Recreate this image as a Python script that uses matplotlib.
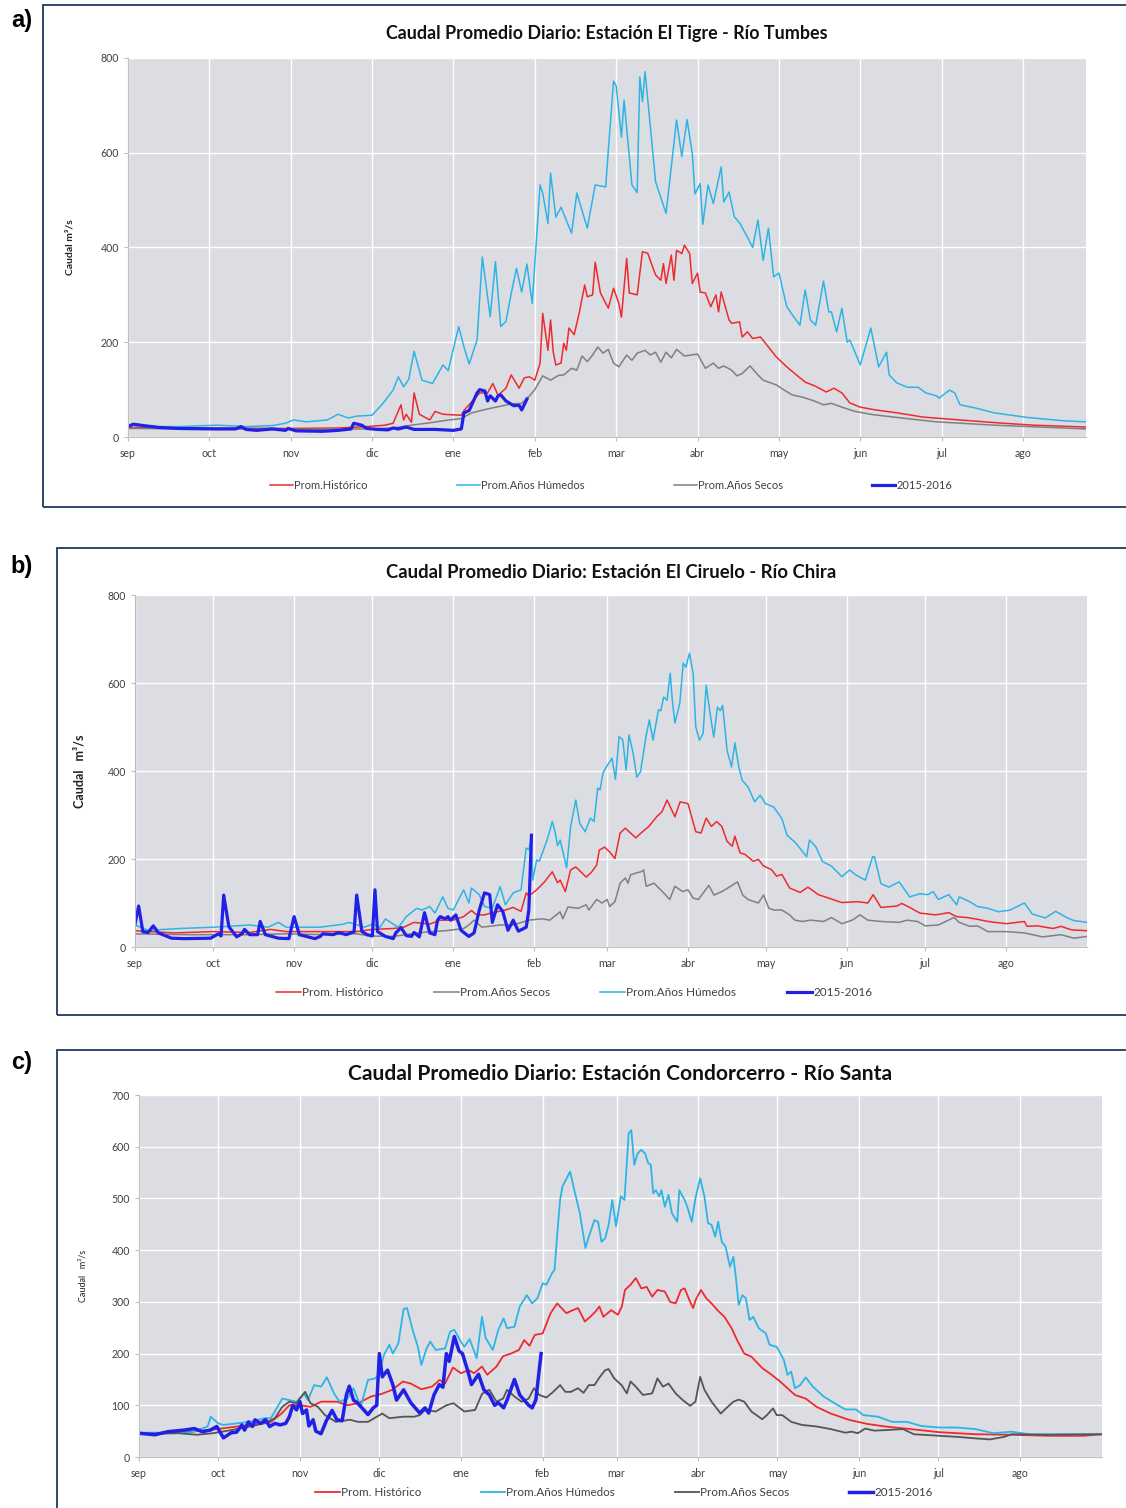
import numpy as np
import matplotlib.pyplot as plt
from matplotlib.patches import Rectangle

W, H = 1126, 1508

meses = ['sep', 'oct', 'nov', 'dic', 'ene', 'feb', 'mar', 'abr', 'may', 'jun', 'jul', 'ago']
# day of the hydrological year (0 = 1 sep) where each month label sits
ticks_a = [0, 31, 62, 93, 124, 155, 186, 217, 248, 279, 310, 341]
ticks_bc = [0, 30, 61, 91, 122, 153, 181, 212, 242, 273, 303, 334]

# ---- a) El Tigre - Rio Tumbes : (day, m3/s)
a_hist = [(0, 20), (30, 19), (60, 18), (80, 19), (91, 22), (98, 25), (101, 29), (104, 68), (105, 36), (106, 48),
          (108, 31), (109, 93), (111, 48), (115, 36), (117, 54), (120, 48), (123, 47), (127, 46), (128, 56),
          (134, 93), (137, 93), (139, 113), (141, 88), (144, 103), (146, 131), (149, 103), (151, 125), (153, 127),
          (155, 120), (157, 156), (158, 261), (160, 183), (161, 247), (162, 180), (163, 152), (165, 156), (166, 198),
          (167, 183), (168, 230), (170, 216), (172, 264), (174, 321), (175, 296), (177, 300), (178, 369), (180, 304),
          (183, 272), (185, 314), (187, 282), (188, 253), (190, 377), (191, 304), (194, 300), (196, 391), (198, 388),
          (201, 342), (203, 331), (204, 366), (205, 324), (207, 384), (208, 331), (209, 394), (211, 387), (212, 405),
          (214, 387), (215, 324), (217, 346), (218, 306), (220, 304), (222, 275), (224, 300), (225, 264), (226, 306),
          (229, 247), (230, 240), (233, 243), (234, 211), (236, 222), (238, 208), (241, 211), (244, 190), (247, 169),
          (251, 148), (254, 134), (258, 116), (262, 107), (266, 95), (269, 103), (272, 93), (275, 72), (279, 63),
          (285, 57), (293, 51), (303, 42), (317, 36), (331, 30), (345, 25), (365, 21)]
a_hum = [(0, 25), (8, 22), (20, 22), (34, 25), (45, 22), (55, 24), (60, 29), (63, 36), (68, 32), (76, 36), (80, 48),
         (84, 40), (87, 44), (93, 46), (97, 70), (101, 99), (103, 127), (105, 106), (107, 122), (109, 181), (112, 120),
         (116, 113), (120, 152), (122, 140), (126, 233), (128, 190), (130, 154), (133, 205), (135, 380), (138, 254),
         (140, 370), (142, 233), (144, 244), (146, 303), (148, 356), (150, 306), (152, 365), (154, 282), (157, 532),
         (158, 515), (160, 451), (161, 557), (163, 464), (165, 485), (169, 430), (171, 515), (175, 441), (178, 532),
         (182, 528), (183, 605), (185, 751), (186, 741), (188, 633), (189, 711), (192, 532), (194, 516), (195, 760),
         (196, 708), (197, 771), (200, 598), (201, 539), (205, 472), (209, 669), (211, 592), (213, 670), (215, 598),
         (216, 513), (218, 535), (219, 449), (221, 532), (223, 493), (226, 570), (227, 496), (229, 517), (231, 465),
         (233, 452), (236, 422), (238, 400), (240, 458), (242, 373), (244, 441), (246, 338), (248, 346), (251, 275),
         (254, 251), (256, 236), (258, 310), (260, 247), (262, 236), (265, 329), (267, 264), (268, 264), (270, 222),
         (272, 272), (274, 200), (275, 205), (279, 152), (283, 230), (286, 148), (289, 179), (290, 131), (293, 114),
         (297, 105), (301, 105), (304, 93), (308, 87), (309, 82), (313, 99), (315, 93), (317, 68), (323, 61),
         (330, 51), (343, 41), (357, 34), (365, 32)]
a_sec = [(0, 18), (30, 17), (60, 16), (90, 17), (101, 19), (108, 25), (115, 30), (121, 35), (127, 39), (131, 51),
         (136, 58), (142, 65), (146, 70), (150, 71), (153, 87), (155, 100), (158, 129), (161, 120), (164, 130),
         (166, 131), (169, 145), (171, 141), (173, 171), (175, 159), (177, 173), (179, 190), (181, 177), (183, 185),
         (185, 156), (187, 148), (190, 173), (192, 162), (194, 177), (197, 183), (199, 173), (201, 179), (203, 158),
         (205, 179), (207, 167), (209, 185), (212, 171), (217, 175), (220, 145), (223, 156), (225, 145), (227, 150),
         (230, 141), (232, 129), (234, 134), (237, 150), (240, 131), (242, 120), (247, 110), (250, 99), (253, 89),
         (257, 84), (261, 77), (265, 68), (268, 71), (272, 63), (277, 54), (284, 47), (295, 40), (308, 32), (330, 25),
         (343, 22), (365, 17)]
a_1516 = [(0, 22), (2, 27), (6, 24), (12, 20), (19, 18), (33, 17), (41, 17), (43, 22), (45, 16), (49, 14), (55, 17),
          (60, 14), (61, 18), (64, 13), (74, 12), (80, 14), (85, 17), (86, 29), (89, 25), (91, 18), (95, 16), (99, 15),
          (101, 19), (103, 17), (106, 21), (109, 16), (117, 16), (124, 14), (127, 17), (128, 51), (130, 56), (133, 93),
          (134, 100), (136, 97), (137, 76), (138, 87), (140, 76), (141, 87), (142, 89), (144, 76), (147, 66), (149, 67),
          (150, 57), (152, 80)]

# ---- b) El Ciruelo - Rio Chira
b_hist = [(0, 37), (15, 32), (30, 35), (44, 33), (52, 40), (58, 35), (72, 35), (85, 35), (91, 40), (99, 42), (103, 45),
          (107, 56), (113, 52), (117, 61), (122, 61), (126, 69), (129, 83), (131, 73), (134, 73), (137, 78), (142, 84),
          (145, 90), (148, 81), (150, 123), (151, 116), (154, 130), (157, 148), (160, 171), (162, 146), (163, 152),
          (165, 126), (167, 175), (169, 182), (173, 159), (175, 170), (177, 186), (178, 220), (180, 227), (182, 216),
          (184, 201), (186, 259), (188, 270), (192, 248), (194, 259), (197, 274), (200, 296), (202, 307), (204, 334),
          (207, 296), (209, 330), (212, 326), (215, 262), (217, 259), (219, 293), (221, 274), (223, 285), (225, 274),
          (227, 240), (229, 229), (230, 252), (232, 214), (234, 210), (237, 195), (239, 199), (241, 184), (244, 176),
          (246, 161), (248, 165), (251, 134), (255, 124), (258, 136), (262, 119), (266, 111), (271, 101), (277, 103),
          (281, 100), (283, 119), (286, 90), (292, 93), (294, 99), (297, 90), (301, 77), (307, 73), (312, 78),
          (315, 69), (319, 67), (323, 63), (327, 58), (334, 53), (341, 58), (342, 47), (346, 48), (352, 42), (355, 47),
          (359, 39), (365, 37)]
b_sec = [(0, 30), (20, 28), (44, 28), (58, 30), (72, 28), (85, 30), (90, 25), (99, 24), (106, 30), (113, 35),
         (119, 37), (126, 42), (128, 50), (130, 61), (133, 45), (140, 50), (145, 50), (151, 61), (156, 64), (159, 61),
         (163, 80), (164, 64), (166, 91), (170, 88), (173, 96), (174, 84), (177, 108), (179, 100), (181, 108),
         (182, 92), (184, 103), (186, 145), (188, 157), (189, 145), (190, 164), (192, 168), (194, 171), (195, 175),
         (196, 138), (199, 145), (201, 133), (203, 121), (205, 108), (207, 138), (210, 126), (212, 130), (214, 111),
         (216, 108), (220, 140), (222, 118), (225, 126), (227, 133), (231, 148), (233, 118), (235, 108), (239, 100),
         (241, 118), (243, 88), (245, 84), (248, 84), (251, 73), (253, 61), (256, 58), (259, 61), (264, 58),
         (267, 67), (271, 53), (275, 61), (278, 73), (281, 61), (286, 58), (293, 56), (296, 61), (300, 58), (303, 48),
         (308, 50), (314, 67), (316, 56), (320, 47), (323, 48), (327, 35), (334, 35), (341, 32), (348, 23), (355, 28),
         (360, 20), (365, 24)]
b_hum = [(0, 50), (5, 38), (17, 42), (30, 45), (44, 50), (51, 45), (55, 56), (58, 45), (63, 45), (71, 45), (80, 52),
         (82, 56), (88, 45), (91, 52), (94, 45), (96, 64), (99, 52), (101, 45), (104, 69), (108, 88), (110, 84),
         (113, 92), (115, 77), (118, 114), (120, 88), (122, 84), (126, 130), (128, 100), (129, 134), (132, 119),
         (134, 92), (137, 88), (140, 137), (142, 96), (145, 123), (148, 130), (150, 225), (151, 221), (152, 248),
         (152.5, 152), (154, 198), (155, 195), (158, 243), (160, 285), (161, 263), (162, 230), (163, 243),
         (165.5, 180), (167, 273), (169, 334), (170.5, 281), (172.6, 262), (174.6, 293), (176, 285), (177.4, 361),
         (178.3, 357), (179.4, 395), (180.8, 410), (182.9, 429), (184.2, 381), (185.6, 478), (187, 471),
         (188.3, 402), (189.4, 482), (191, 440), (192.4, 386), (193.8, 398), (195.9, 478), (197.2, 516),
         (198.6, 470), (200.7, 539), (201.6, 537), (202.7, 568), (204, 561), (205.2, 622), (206, 561), (207, 509),
         (208.9, 555), (210.2, 645), (211.2, 636), (212.6, 668), (214, 622), (215, 500), (216.4, 470), (217.8, 485),
         (219, 595), (220.5, 530), (221.9, 477), (223.3, 545), (224.4, 537), (225.3, 549), (227, 447), (228.7, 409),
         (230, 464), (231.5, 409), (232.8, 379), (235, 364), (237.6, 330), (239.7, 345), (241.7, 326), (244.9, 318),
         (248, 292), (250, 254), (253.4, 236), (257.5, 205), (258.6, 243), (261, 228), (263.6, 194), (267, 184),
         (271, 160), (274, 175), (276.6, 163), (280, 152), (282.8, 205), (283.5, 205), (286, 144), (289, 136),
         (293, 148), (297, 114), (301, 121), (304, 119), (306, 126), (308, 108), (312, 119), (315, 96), (316, 114),
         (320, 103), (323, 92), (327, 88), (331, 80), (335.5, 84), (341, 100), (344, 75), (349, 66), (353, 81),
         (357.5, 66), (360, 60), (365, 56)]
b_1516 = [(0, 52), (1.4, 93), (3, 35), (5, 33), (7, 48), (9, 32), (14, 20), (19, 19), (29, 20), (32, 30), (33, 25),
          (34, 118), (36, 46), (39, 23), (41, 30), (42, 40), (44, 28), (47, 28), (48, 58), (50, 28), (55, 20),
          (59, 19), (61, 69), (63, 28), (69, 19), (71, 24), (72, 30), (76, 28), (78, 33), (81, 28), (84, 35),
          (85, 118), (87, 35), (89, 28), (91, 25), (92, 130), (93, 35), (96, 24), (99, 19), (100, 32), (102, 44),
          (104, 26), (106, 24), (107, 33), (109, 23), (111, 78), (113, 32), (115, 28), (116, 61), (117, 69),
          (119, 64), (120, 69), (121, 61), (123, 73), (125, 38), (128, 24), (130, 32), (132, 84), (134, 123),
          (136, 119), (137, 56), (139, 96), (141, 81), (143, 38), (145, 61), (147, 36), (150, 45), (151, 84),
          (152, 254)]

# ---- c) Condorcerro - Rio Santa
c_hist = [(0, 45), (14, 46), (28, 53), (42, 62), (50, 68), (54, 84), (57, 100), (61, 100), (65, 97), (69, 107),
          (75, 107), (79, 100), (83, 104), (88, 117), (92, 122), (96, 130), (100, 146), (103, 142), (107, 131),
          (111, 136), (114, 149), (116, 142), (119, 173), (122, 162), (125, 168), (127, 162), (130, 175), (132, 159),
          (135.5, 175), (138, 195), (141, 200), (144, 207), (146, 226), (148, 215), (150, 236), (153, 239),
          (156, 278), (158.5, 297), (162, 278), (164, 283), (166.4, 288), (169, 262), (171, 271), (173, 281),
          (174.5, 291), (176, 271), (179, 284), (181.5, 275), (183, 291), (184.2, 323), (186.3, 333), (188.3, 346),
          (190.4, 326), (192.4, 329), (194.5, 310), (196.5, 323), (199.3, 320), (201.3, 300), (203.4, 297),
          (205.4, 323), (206.8, 326), (208.9, 300), (210, 288), (211, 304), (213, 323), (215, 307), (217, 297),
          (219.8, 281), (221.9, 271), (224.6, 249), (226.7, 226), (229.4, 200), (232.1, 194), (236.2, 172),
          (239, 162), (243, 146), (248.6, 120), (252.7, 113), (256.8, 97), (262.2, 84), (269, 72), (276, 64),
          (282.8, 59), (292.4, 54), (303.3, 48), (317, 44), (330.7, 43), (344.4, 41), (358, 41), (365, 44)]
c_hum = [(0, 47), (10, 47), (20, 48), (26, 59), (27.2, 78), (30, 65), (32, 62), (37, 65), (42, 68), (47.5, 75),
         (50, 75), (54.3, 113), (57, 110), (59.7, 107), (62.4, 123), (64, 110), (66.4, 139), (69, 136), (71.2, 154),
         (73.9, 123), (76, 107), (79, 113), (81.3, 133), (84, 97), (86.8, 149), (89.5, 152), (91, 159), (92.8, 197),
         (94.9, 217), (96.2, 200), (98.3, 220), (100.3, 286), (101.6, 288), (103.7, 246), (105.7, 213), (107, 178),
         (109, 210), (110.4, 223), (112.5, 207), (116, 210), (117.9, 242), (119.5, 246), (122, 223), (123.3, 213),
         (125.3, 228), (128, 191), (130, 271), (131.4, 230), (134.1, 207), (136.2, 246), (138.2, 268), (139.5, 249),
         (142.3, 252), (144.3, 291), (147, 313), (149, 297), (151, 307), (153, 336), (154.4, 333), (156.5, 355),
         (157.5, 362), (158.5, 430), (159.6, 497), (160.5, 523), (163.4, 552), (165, 516), (167.1, 471),
         (169.2, 404), (170.5, 426), (172.6, 458), (174, 455), (175.3, 416), (176.7, 423), (178, 449), (179.4, 497),
         (180.8, 446), (182.6, 504), (184, 497), (185.6, 626), (186.6, 632), (187.7, 565), (189, 587), (190.4, 594),
         (191.8, 587), (193, 568), (194, 565), (194.9, 510), (195.9, 516), (197.2, 504), (198, 516), (199.3, 484),
         (200.7, 507), (202, 471), (204, 455), (204.8, 516), (206.8, 497), (207.8, 484), (209.5, 455), (210.9, 500),
         (212.7, 539), (214.3, 504), (215.7, 452), (217, 449), (218.4, 426), (219.5, 455), (220.9, 416),
         (222.3, 407), (224, 368), (225.3, 387), (226.3, 344), (227.3, 294), (228.7, 313), (230, 307), (231.4, 265),
         (232.8, 271), (234.9, 249), (237.6, 239), (239, 217), (241.7, 213), (244.4, 188), (245.8, 159),
         (247.2, 165), (248.6, 133), (250.6, 139), (252.7, 154), (255.4, 136), (259.5, 117), (263.6, 104),
         (267.7, 92), (271.8, 92), (274.5, 81), (280, 78), (285.5, 68), (291, 68), (296.5, 60), (303.3, 57),
         (310, 57), (317, 54), (323.8, 46), (330.7, 49), (337.5, 44), (351, 44), (365, 44)]
c_sec = [(0, 45), (15, 46), (22, 43), (28, 46), (35, 52), (42, 59), (47.5, 65), (51.5, 75), (54.3, 97), (57, 107),
         (59.7, 104), (63, 126), (65, 104), (67.8, 97), (70.5, 81), (74.6, 68), (80, 72), (83, 68), (86.8, 68),
         (92.2, 84), (94.9, 75), (100.3, 78), (104.4, 78), (106.4, 81), (108.4, 91), (112.5, 88), (116.5, 100),
         (119.2, 104), (121, 97), (123.3, 88), (127.4, 91), (130, 122), (132.8, 130), (135.5, 107), (138, 113),
         (139.5, 130), (142.3, 117), (145, 107), (147.7, 113), (149.7, 133), (151.7, 120), (154.4, 115), (157, 126),
         (159.6, 139), (161.6, 126), (163.7, 126), (166.4, 133), (168.5, 124), (170.5, 139), (172.6, 139),
         (174.7, 155), (176.7, 168), (178, 170), (180.1, 152), (182.9, 139), (184.9, 123), (186.3, 146),
         (188.3, 136), (191, 120), (194.5, 123), (196.5, 152), (198.6, 136), (200.7, 142), (203.4, 123),
         (206.1, 110), (208.9, 99), (210.9, 107), (212.7, 155), (214.3, 130), (217, 107), (220.5, 84), (222.5, 94),
         (225.3, 107), (227.3, 111), (229.4, 107), (232.1, 88), (236.2, 73), (238, 81), (240.3, 94), (241.7, 81),
         (243.8, 81), (247.2, 68), (251.3, 62), (256.8, 59), (262.2, 54), (267.7, 47), (270, 49), (272.5, 46),
         (275.2, 55), (278.7, 51), (282.8, 52), (289.6, 54), (293.7, 44), (303.3, 41), (310, 39), (317, 36),
         (322.5, 34), (328, 39), (330.7, 44), (344, 43), (365, 44)]
c_1516 = [(0, 46), (6, 43), (11, 49), (17, 52), (21, 55), (24, 49), (27, 52), (29.5, 59), (32, 37), (35, 47),
          (37, 48), (39, 62), (40, 52), (41.5, 68), (43, 59), (44, 72), (46, 65), (48, 72), (49.5, 59), (51.5, 65),
          (53.5, 62), (55.6, 65), (57, 78), (58.3, 100), (59.7, 91), (61, 107), (62, 84), (63.5, 91), (64.4, 60),
          (66, 72), (67, 50), (69, 45), (71, 70), (73.2, 90), (75, 72), (77, 70), (78.6, 120), (79.7, 137),
          (81.3, 110), (82.7, 105), (85.4, 90), (86.8, 82), (88.8, 95), (90.1, 100), (91.1, 200), (92.2, 155),
          (94.2, 168), (96.2, 140), (97.6, 110), (100.3, 130), (103, 105), (106.4, 85), (108.4, 95), (109.8, 85),
          (111.8, 120), (113.8, 140), (115.2, 135), (116.5, 200), (117.6, 185), (119.5, 233), (121.3, 205),
          (122.6, 200), (124.7, 165), (126, 140), (128.7, 160), (130.7, 130), (132.8, 120), (134.8, 100),
          (136.2, 105), (138.2, 95), (139.5, 110), (142.3, 150), (144.3, 120), (147.7, 100), (149, 95),
          (150.4, 110), (152.4, 200)]

C_HIST = '#EE2A2F'
C_HUM = '#2DB4E6'
C_SEC = '#808080'
C_1516 = '#2020E6'
BG = '#DCDDE2'
FRAME = '#1F3864'

plt.rcParams['font.family'] = ['Lato', 'DejaVu Sans']

fig = plt.figure(figsize=(W / 100, H / 100), dpi=100)


def fbox(l, t, r, b):
    return [l / W, 1 - b / H, (r - l) / W, (b - t) / H]


def frame(l, t, r, b):
    fig.add_artist(Rectangle((l / W, 1 - b / H), (r - l) / W, (b - t) / H, transform=fig.transFigure,
                             fill=False, ec=FRAME, lw=1.3))


def panel(rect, series, ymax, ystep, ticks, title, ty, tsize, ylab, ybold, ysize, ylabx,
          legx, legy, legsize, colsp):
    ax = fig.add_axes(fbox(*rect))
    ax.set_facecolor(BG)
    for name, data, color, lw in series:
        d = np.array(data, dtype=float)
        ax.plot(d[:, 0], d[:, 1], color=color, lw=lw, label=name, solid_joinstyle='round')
    ax.set_xlim(0, 365)
    ax.set_ylim(0, ymax)
    ax.set_yticks(np.arange(0, ymax + 1, ystep))
    ax.set_xticks(ticks)
    ax.set_xticklabels(meses)
    ax.grid(True, color='white', lw=1.0)
    ax.set_axisbelow(True)
    for s in ['top', 'right']:
        ax.spines[s].set_visible(False)
    for s in ['left', 'bottom']:
        ax.spines[s].set_color('#BFBFBF')
    ax.tick_params(axis='both', colors='#BFBFBF', labelcolor='#404040', labelsize=7.6, length=3)
    ax.tick_params(axis='x', pad=5)
    fig.text((rect[0] + rect[2]) / 2 / W, 1 - ty / H, title, ha='center', va='center',
             fontsize=tsize, fontweight='bold', color='#111111')
    fig.text(ylabx / W, 1 - (rect[1] + rect[3]) / 2 / H, ylab, rotation=90, ha='center', va='center',
             fontsize=ysize, fontweight='bold' if ybold else 'normal', color='#222222')
    leg = ax.legend(loc='center', ncol=4, frameon=False, fontsize=legsize, handlelength=2.1,
                    handletextpad=0.1, columnspacing=colsp, labelcolor='#404040')
    leg.set_bbox_to_anchor((legx / W, 1 - legy / H), transform=fig.transFigure)
    return ax


# a)
frame(43, 5, 1130, 507)
panel((128, 58, 1086, 437),
      [('Prom.Histórico', a_hist, C_HIST, 1.1), ('Prom.Años Húmedos', a_hum, C_HUM, 1.1),
       ('Prom.Años Secos', a_sec, C_SEC, 1.1), ('2015-2016', a_1516, C_1516, 2.3)],
      800, 200, ticks_a, 'Caudal Promedio Diario: Estación El Tigre - Río Tumbes', 33, 12.9,
      'Caudal m³/s', True, 7.5, 70, 611, 485, 8.0, 8.0)

# b)
frame(57, 548, 1130, 1015)
panel((135, 595, 1087, 947),
      [('Prom. Histórico', b_hist, C_HIST, 1.1), ('Prom.Años Secos', b_sec, C_SEC, 1.1),
       ('Prom.Años Húmedos', b_hum, C_HUM, 1.1), ('2015-2016', b_1516, C_1516, 2.3)],
      800, 200, ticks_bc, 'Caudal Promedio Diario: Estación El Ciruelo - Río Chira', 572, 13.3,
      'Caudal   m³/s', True, 9, 79, 574, 993, 8.5, 4.3)

# c)
frame(57, 1050, 1130, 1512)
panel((139, 1095, 1102, 1457),
      [('Prom. Histórico', c_hist, C_HIST, 1.3), ('Prom.Años Húmedos', c_hum, C_HUM, 1.3),
       ('Prom.Años Secos', c_sec, '#555555', 1.3), ('2015-2016', c_1516, C_1516, 2.5)],
      700, 100, ticks_bc, 'Caudal Promedio Diario: Estación Condorcerro - Río Santa', 1074, 15.1,
      'Caudal   m³/s', False, 6.5, 83, 624, 1493, 8.4, 5.1)

for lab, y in [('a)', 20), ('b)', 567), ('c)', 1063)]:
    fig.text(22 / W, 1 - y / H, lab, ha='center', va='center', fontsize=17, fontweight='bold',
             family='Liberation Sans')

fig.savefig('out.png', dpi=100)
